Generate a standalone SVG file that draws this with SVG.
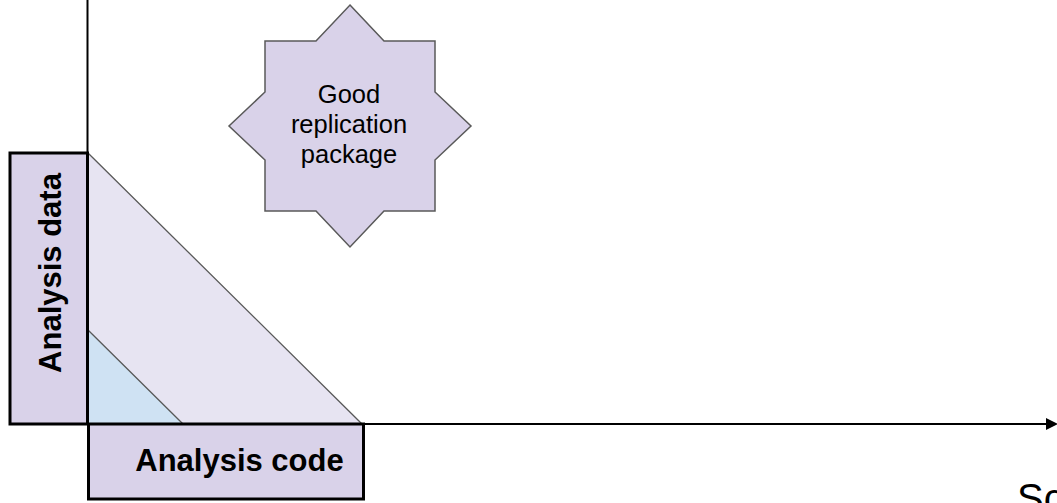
<svg xmlns="http://www.w3.org/2000/svg" width="1057" height="503" viewBox="0 0 1057 503">
<style>
.tri{stroke:#595959;stroke-width:1.3;stroke-linejoin:round}
.box{fill:#d9d2e9;stroke:#000;stroke-width:3}
.lbl{font-family:"Liberation Sans",Arial,sans-serif;font-weight:bold;font-size:31px;fill:#000;text-anchor:middle}
.star{fill:#d9d2e9;stroke:#595959;stroke-width:1.5;stroke-linejoin:miter}
.startxt{font-family:"Liberation Sans",Arial,sans-serif;font-size:25.5px;fill:#000;text-anchor:middle}
.axis{stroke:#000;stroke-width:2;fill:none}
</style>
<defs>
<marker id="arr" markerWidth="6" markerHeight="6" refX="5" refY="3" orient="auto" markerUnits="strokeWidth">
<path d="M0,0 L6,3 L0,6 z" fill="#000"/>
</marker>
</defs>
<rect width="1057" height="503" fill="#fff"/>
<g id="big-triangle">
<polygon class="tri" points="88,153 88,424 362,424" fill="#e7e4f2"/>
</g>
<g id="small-triangle">
<polygon class="tri" points="88,330 88,424 183,424" fill="#cfe2f3"/>
</g>
<g id="connectors">
<line class="axis" x1="87.5" y1="0" x2="87.5" y2="424"/>
<line class="axis" x1="87.5" y1="424" x2="1056" y2="424" marker-end="url(#arr)"/>
</g>
<g id="analysis-data">
<rect class="box" x="10" y="153" width="77.5" height="271"/>
<text class="lbl" transform="translate(61,273) rotate(-90)">Analysis data</text>
</g>
<g id="analysis-code">
<rect class="box" x="88.5" y="424" width="275" height="75"/>
<text class="lbl" x="239.5" y="471">Analysis code</text>
</g>
<g id="good-replication-package">
<polygon class="star" points="350,5 384,41 435,41 435,92 471,126 435,160 435,211 384,211 350,247 316,211 265,211 265,160 229,126 265,92 265,41 316,41"/>
<text class="startxt" x="349" y="103">Good</text>
<text class="startxt" x="349" y="133">replication</text>
<text class="startxt" x="349" y="163">package</text>
</g>
<g id="x-axis-label">
<text x="1017" y="512" style="font-family:'Liberation Sans',Arial,sans-serif;font-size:40px;fill:#000">Sc</text>
</g>
</svg>
